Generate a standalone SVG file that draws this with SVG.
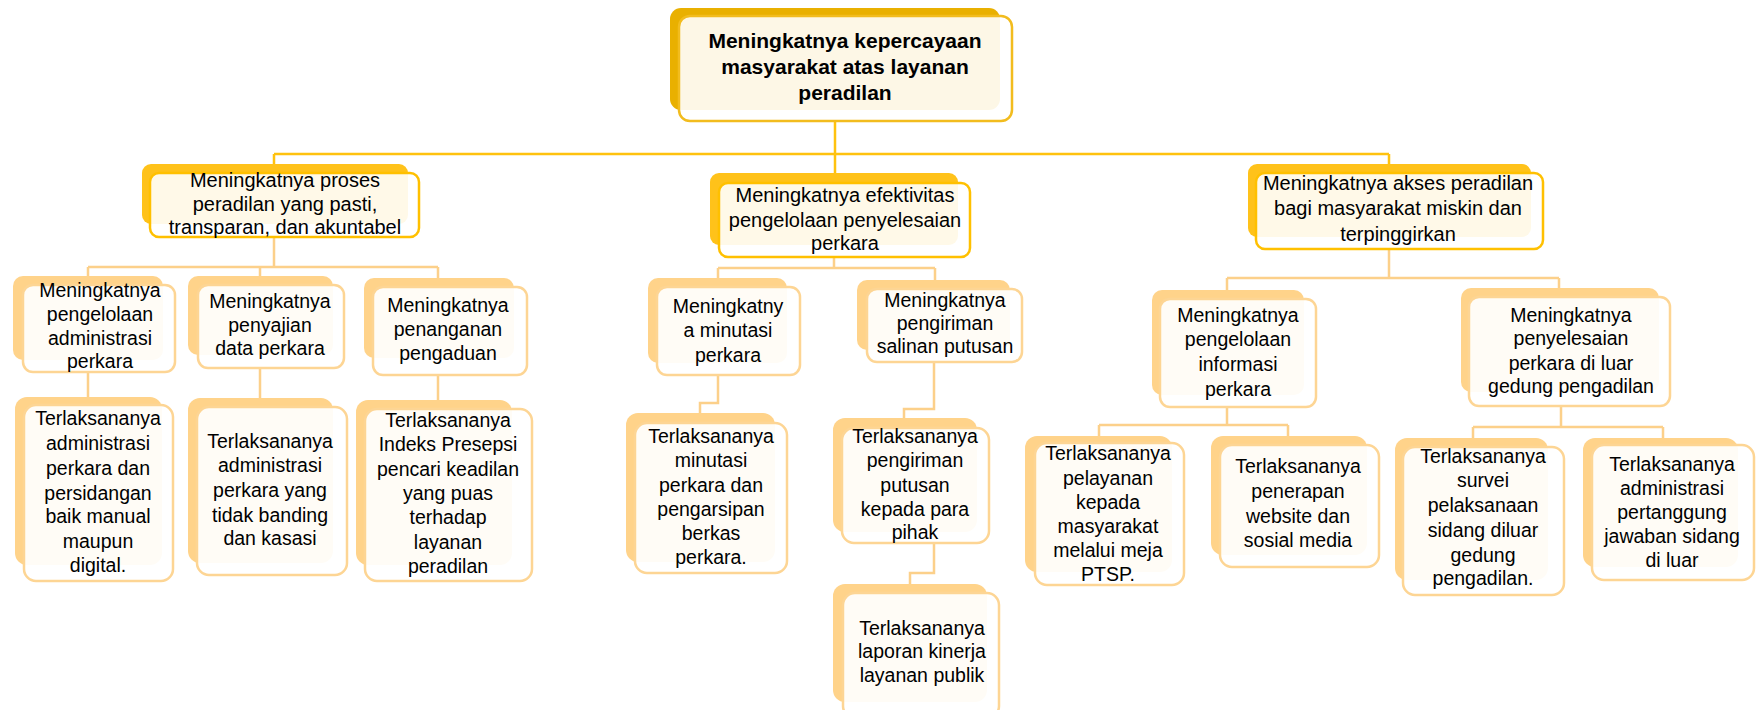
<svg xmlns="http://www.w3.org/2000/svg" width="1764" height="710" viewBox="0 0 1764 710">
<style>
.bg{fill:#fff}
.b0{fill:#E9B000}
.b1{fill:#FFC21A}
.b2{fill:#FFD38A}
.f0{fill:#fff;fill-opacity:.9;stroke:#F2BC1E;stroke-width:2.5}
.f1{fill:#fff;fill-opacity:.9;stroke:#FFC000;stroke-width:2.5}
.f2{fill:#fff;fill-opacity:.92;stroke:#FDD594;stroke-width:2.5}
text{font-family:"Liberation Sans",Arial,sans-serif;font-size:19.5px;fill:#000;text-anchor:middle}
.t0{font-size:21px;font-weight:bold}
.t1{font-size:20px}
.c0{fill:none;stroke:#FFC20E;stroke-width:2.5}
.c1{fill:none;stroke:#FCD08A;stroke-width:2.5}
</style>
<rect class="bg" x="0" y="0" width="1764" height="710"/>
<g id="connectors">
<path class="c0" d="M835 121V183M274 154H1389M274 154V173M1389 154V173"/>
<path class="c1" d="M274 237V267M88 267H438M88 267V285M260 267V285M438 267V287"/>
<path class="c1" d="M88 372V405M260 368V407M438 375V409"/>
<path class="c1" d="M834 257V268M718 268H935M718 268V287M935 268V289"/>
<path class="c1" d="M718 375V403H700V423M934 362V409H904V428M934 543V573H910V593"/>
<path class="c1" d="M1389 249V278M1227 278H1559M1227 278V299M1559 278V297"/>
<path class="c1" d="M1227 407V425M1099 425H1288M1099 425V443M1288 425V445"/>
<path class="c1" d="M1561 406V427M1473 427H1663M1473 427V447M1663 427V445"/>
</g>
<g id="n0">
<rect class="b0" x="670" y="8" width="330" height="102" rx="11"/>
<rect class="f0" x="679" y="16" width="333" height="105" rx="11"/>
<text class="t0" x="845" y="48">Meningkatnya kepercayaan</text>
<text class="t0" x="845" y="74">masyarakat atas layanan</text>
<text class="t0" x="845" y="100">peradilan</text>
</g>
<g id="n1">
<rect class="b1" x="142" y="164" width="266" height="60" rx="9"/>
<rect class="f1" x="150" y="173" width="269" height="64" rx="9"/>
<text class="t1" x="285" y="187">Meningkatnya proses</text>
<text class="t1" x="285" y="211">peradilan yang pasti,</text>
<text class="t1" x="285" y="234">transparan, dan akuntabel</text>
</g>
<g id="n2">
<rect class="b1" x="710" y="173" width="248" height="72" rx="9"/>
<rect class="f1" x="719" y="183" width="251" height="74" rx="9"/>
<text class="t1" x="845" y="202">Meningkatnya efektivitas</text>
<text class="t1" x="845" y="227">pengelolaan penyelesaian</text>
<text class="t1" x="845" y="250">perkara</text>
</g>
<g id="n3">
<rect class="b1" x="1248" y="164" width="283" height="73" rx="9"/>
<rect class="f1" x="1256" y="173" width="287" height="76" rx="9"/>
<text class="t1" x="1398" y="190">Meningkatnya akses peradilan</text>
<text class="t1" x="1398" y="215">bagi masyarakat miskin dan</text>
<text class="t1" x="1398" y="241">terpinggirkan</text>
</g>
<g id="nA">
<rect class="b2" x="13" y="276" width="150" height="84" rx="10"/>
<rect class="f2" x="23" y="285" width="152" height="87" rx="10"/>
<text x="100" y="297">Meningkatnya</text>
<text x="100" y="321">pengelolaan</text>
<text x="100" y="345">administrasi</text>
<text x="100" y="368">perkara</text>
</g>
<g id="nB">
<rect class="b2" x="188" y="276" width="145" height="79" rx="10"/>
<rect class="f2" x="198" y="285" width="146" height="83" rx="10"/>
<text x="270" y="308">Meningkatnya</text>
<text x="270" y="332">penyajian</text>
<text x="270" y="355">data perkara</text>
</g>
<g id="nC">
<rect class="b2" x="364" y="278" width="150" height="80" rx="10"/>
<rect class="f2" x="373" y="287" width="154" height="88" rx="10"/>
<text x="448" y="312">Meningkatnya</text>
<text x="448" y="336">penanganan</text>
<text x="448" y="360">pengaduan</text>
</g>
<g id="nG">
<rect class="b2" x="648" y="278" width="139" height="85" rx="10"/>
<rect class="f2" x="657" y="287" width="143" height="88" rx="10"/>
<text x="728" y="313">Meningkatny</text>
<text x="728" y="337">a minutasi</text>
<text x="728" y="362">perkara</text>
</g>
<g id="nH">
<rect class="b2" x="857" y="280" width="153" height="70" rx="10"/>
<rect class="f2" x="867" y="289" width="155" height="73" rx="10"/>
<text x="945" y="307">Meningkatnya</text>
<text x="945" y="330">pengiriman</text>
<text x="945" y="353">salinan putusan</text>
</g>
<g id="nL">
<rect class="b2" x="1152" y="290" width="152" height="105" rx="10"/>
<rect class="f2" x="1160" y="299" width="156" height="108" rx="10"/>
<text x="1238" y="322">Meningkatnya</text>
<text x="1238" y="346">pengelolaan</text>
<text x="1238" y="371">informasi</text>
<text x="1238" y="396">perkara</text>
</g>
<g id="nM">
<rect class="b2" x="1461" y="288" width="198" height="104" rx="10"/>
<rect class="f2" x="1469" y="297" width="201" height="109" rx="10"/>
<text x="1571" y="322">Meningkatnya</text>
<text x="1571" y="345">penyelesaian</text>
<text x="1571" y="370">perkara di luar</text>
<text x="1571" y="393">gedung pengadilan</text>
</g>
<g id="nD">
<rect class="b2" x="15" y="397" width="147" height="168" rx="12"/>
<rect class="f2" x="24" y="405" width="149" height="176" rx="12"/>
<text x="98" y="425">Terlaksananya</text>
<text x="98" y="450">administrasi</text>
<text x="98" y="475">perkara dan</text>
<text x="98" y="500">persidangan</text>
<text x="98" y="523">baik manual</text>
<text x="98" y="548">maupun</text>
<text x="98" y="572">digital.</text>
</g>
<g id="nE">
<rect class="b2" x="188" y="398" width="145" height="165" rx="12"/>
<rect class="f2" x="197" y="407" width="150" height="168" rx="12"/>
<text x="270" y="448">Terlaksananya</text>
<text x="270" y="472">administrasi</text>
<text x="270" y="497">perkara yang</text>
<text x="270" y="522">tidak banding</text>
<text x="270" y="545">dan kasasi</text>
</g>
<g id="nF">
<rect class="b2" x="356" y="400" width="156" height="165" rx="12"/>
<rect class="f2" x="365" y="409" width="167" height="172" rx="12"/>
<text x="448" y="427">Terlaksananya</text>
<text x="448" y="451">Indeks Presepsi</text>
<text x="448" y="476">pencari keadilan</text>
<text x="448" y="500">yang puas</text>
<text x="448" y="524">terhadap</text>
<text x="448" y="549">layanan</text>
<text x="448" y="573">peradilan</text>
</g>
<g id="nI">
<rect class="b2" x="626" y="413" width="149" height="149" rx="12"/>
<rect class="f2" x="635" y="423" width="152" height="150" rx="12"/>
<text x="711" y="443">Terlaksananya</text>
<text x="711" y="467">minutasi</text>
<text x="711" y="492">perkara dan</text>
<text x="711" y="516">pengarsipan</text>
<text x="711" y="540">berkas</text>
<text x="711" y="564">perkara.</text>
</g>
<g id="nJ">
<rect class="b2" x="833" y="418" width="144" height="114" rx="12"/>
<rect class="f2" x="842" y="428" width="147" height="115" rx="12"/>
<text x="915" y="443">Terlaksananya</text>
<text x="915" y="467">pengiriman</text>
<text x="915" y="492">putusan</text>
<text x="915" y="516">kepada para</text>
<text x="915" y="539">pihak</text>
</g>
<g id="nK">
<rect class="b2" x="833" y="584" width="154" height="118" rx="12"/>
<rect class="f2" x="843" y="593" width="156" height="125" rx="12"/>
<text x="922" y="635">Terlaksananya</text>
<text x="922" y="658">laporan kinerja</text>
<text x="922" y="682">layanan publik</text>
</g>
<g id="nO">
<rect class="b2" x="1025" y="436" width="147" height="136" rx="12"/>
<rect class="f2" x="1035" y="443" width="149" height="142" rx="12"/>
<text x="1108" y="460">Terlaksananya</text>
<text x="1108" y="485">pelayanan</text>
<text x="1108" y="509">kepada</text>
<text x="1108" y="533">masyarakat</text>
<text x="1108" y="557">melalui meja</text>
<text x="1108" y="581">PTSP.</text>
</g>
<g id="nP">
<rect class="b2" x="1211" y="436" width="156" height="119" rx="12"/>
<rect class="f2" x="1220" y="445" width="159" height="122" rx="12"/>
<text x="1298" y="473">Terlaksananya</text>
<text x="1298" y="498">penerapan</text>
<text x="1298" y="523">website dan</text>
<text x="1298" y="547">sosial media</text>
</g>
<g id="nQ">
<rect class="b2" x="1395" y="438" width="153" height="142" rx="12"/>
<rect class="f2" x="1403" y="447" width="161" height="148" rx="12"/>
<text x="1483" y="463">Terlaksananya</text>
<text x="1483" y="487">survei</text>
<text x="1483" y="512">pelaksanaan</text>
<text x="1483" y="537">sidang diluar</text>
<text x="1483" y="562">gedung</text>
<text x="1483" y="585">pengadilan.</text>
</g>
<g id="nR">
<rect class="b2" x="1583" y="438" width="155" height="129" rx="12"/>
<rect class="f2" x="1592" y="445" width="162" height="135" rx="12"/>
<text x="1672" y="471">Terlaksananya</text>
<text x="1672" y="495">administrasi</text>
<text x="1672" y="519">pertanggung</text>
<text x="1672" y="543">jawaban sidang</text>
<text x="1672" y="567">di luar</text>
</g>
</svg>
